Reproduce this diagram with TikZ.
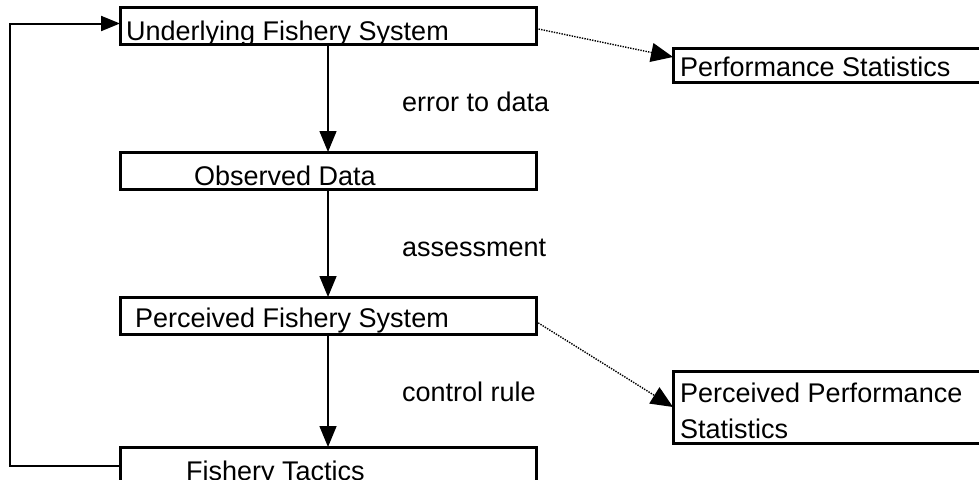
\documentclass[tikz,border=0pt]{standalone}
\usepackage{fontspec}
\setmainfont{Liberation Sans}
\usetikzlibrary{arrows.meta}
\begin{document}
\begin{tikzpicture}[x=1pt,y=-1pt,
  box/.style={draw,line width=3pt,minimum width=416pt,minimum height=37pt,anchor=north west,inner sep=0pt,outer sep=0pt},
  txt/.style={anchor=base west,inner sep=0pt,font=\fontsize{27}{36}\selectfont},
  flow/.style={line width=1.5pt,-{Triangle[length=21pt,width=17pt]}},
  dots/.style={line width=1.4pt,dash pattern=on 1.4pt off 1.2pt,-{Triangle[length=22pt,width=19pt]}},
  loopline/.style={line width=2pt,-{Triangle[length=19pt,width=15pt]}}]
\useasboundingbox (0,0) rectangle (979,479);
\clip (0,0) rectangle (979,479);
% boxes
\node[box] (u) at (120,7) {};
\node[box] (o) at (120,152) {};
\node[box] (p) at (120,297) {};
\node[box,minimum height=45pt] (f) at (120,447) {};
\node[box,minimum width=330pt,minimum height=34pt] (ps) at (673,48) {};
\node[box,minimum width=330pt,minimum height=72pt] (pps) at (673,371) {};
% texts
\node[txt] (tu) at (126,40) {Underlying Fishery System};
\node[txt] (to) at (194,185) {Observed Data};
\node[txt] (tp) at (135,327) {Perceived Fishery System};
\node[txt] (tf) at (186,480) {Fishery Tactics};
\node[txt] (tps) at (680,76) {Performance Statistics};
\node[txt] (tpps1) at (680,402) {Perceived Performance};
\node[txt] (tpps2) at (680,438) {Statistics};
% labels
\node[txt] (l1) at (402,111) {error to data};
\node[txt] (l2) at (402,256) {assessment};
\node[txt] (l3) at (402,401) {control rule};
% connectors
\draw[flow] (u.south) -- (o.north);
\draw[flow] (o.south) -- (p.north);
\draw[flow] (p.south) -- (f.north);
\draw[dots] ([yshift=-3pt]u.east) -- ([yshift=8pt]ps.west);
\draw[dots] ([yshift=-6pt]p.east) -- (pps.west);
\coordinate (lc) at (10,0);
\coordinate (fl) at ([yshift=4pt]f.west);
\draw[loopline] (fl) -- (fl -| lc) |- ([yshift=2pt]u.west);
\end{tikzpicture}
\end{document}
